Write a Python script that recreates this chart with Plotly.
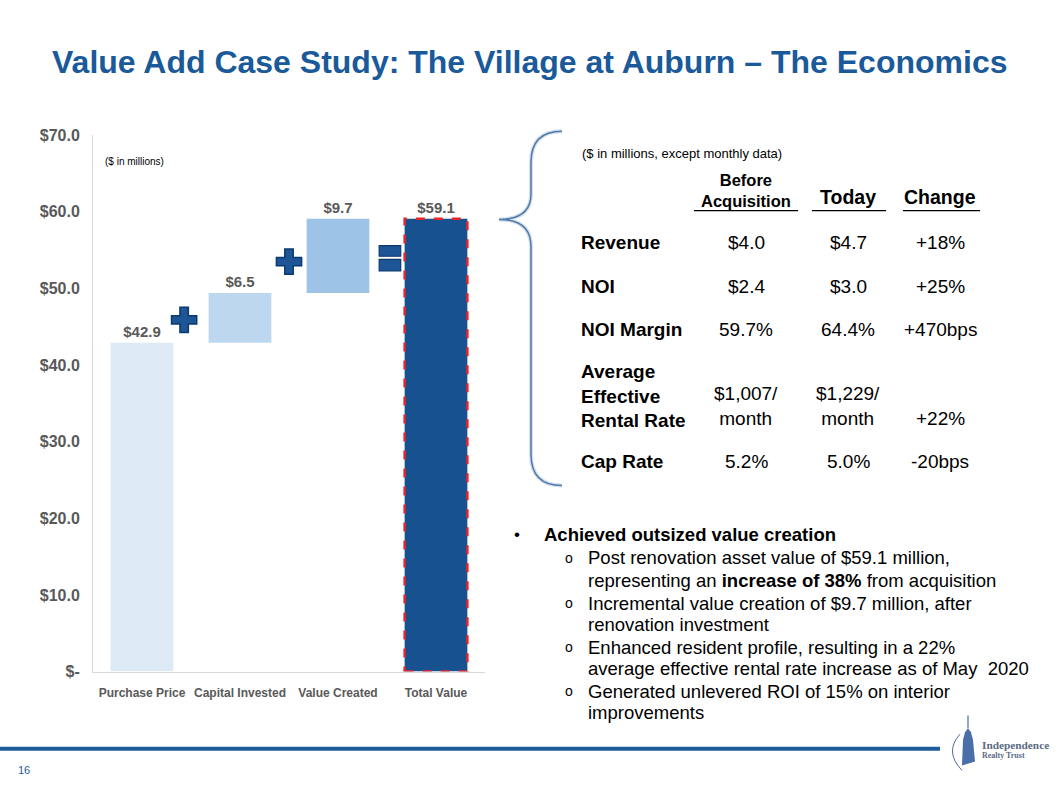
import plotly.graph_objects as go

W, H = 1058, 796

# ---------------- data ----------------
categories = ["Purchase Price", "Capital Invested", "Value Created", "Total Value"]
step_values = [42.9, 6.5, 9.7]          # waterfall steps
total_value = 59.1
value_labels = ["$42.9", "$6.5", "$9.7", "$59.1"]
y_ticks = [0, 10, 20, 30, 40, 50, 60, 70]
y_tick_labels = ["$-", "$10.0", "$20.0", "$30.0", "$40.0", "$50.0", "$60.0", "$70.0"]

table_rows = ["Revenue", "NOI", "NOI Margin", "Average<br>Effective<br>Rental Rate", "Cap Rate"]
table_before = ["$4.0", "$2.4", "59.7%", "$1,007/<br>month", "5.2%"]
table_today = ["$4.7", "$3.0", "64.4%", "$1,229/<br>month", "5.0%"]
table_change = ["+18%", "+25%", "+470bps", "+22%", "-20bps"]

bullet_head = "Achieved outsized value creation"
sub_bullets = [
    ["Post renovation asset value of $59.1 million,",
     "representing an <b>increase of 38%</b> from acquisition"],
    ["Incremental value creation of $9.7 million, after",
     "renovation investment"],
    ["Enhanced resident profile, resulting in a 22%",
     "average effective rental rate increase as of May  2020"],
    ["Generated unlevered ROI of 15% on interior",
     "improvements"],
]

# ---------------- helpers ----------------
FONT = "Arial, Liberation Sans, sans-serif"
def PX(x):
    return x / W
def PY(y):
    return 1 - y / H

# waterfall bases
bases = []
running = 0.0
for v in step_values:
    bases.append(running)
    running += v
bar_values = step_values + [total_value]
bar_bases = bases + [0]
bar_colors = ["#DDEAF6", "#BDD7EE", "#9DC3E6", "#17518F"]
BAR_W = 0.64

fig = go.Figure()
fig.add_trace(go.Bar(
    x=categories, y=bar_values, base=bar_bases, width=BAR_W,
    marker=dict(color=bar_colors, line=dict(width=0)),
    text=value_labels, textposition="outside",
    textfont=dict(family=FONT, size=15, color="#595959", weight="bold"),
    cliponaxis=False, showlegend=False, hoverinfo="skip",
))

# plus symbols between bars
plus_x = [0.43, 1.5]
plus_y = [bases[1] + 3.0, bases[2] + 4.1]
fig.add_trace(go.Scatter(
    x=plus_x, y=plus_y, mode="markers", xaxis="x2", yaxis="y",
    marker=dict(symbol="cross", size=21, color="#1D5596",
                line=dict(color="#0C3A6E", width=1.5)),
    showlegend=False, hoverinfo="skip", cliponaxis=False,
))

# dashed red outline around the total bar
fig.add_shape(type="rect", xref="x2", yref="y",
              x0=3 - BAR_W / 2, x1=3 + BAR_W / 2, y0=0, y1=total_value,
              line=dict(color="#E3262E", width=2.5, dash="dash"),
              fillcolor="rgba(0,0,0,0)", layer="above")

# equals sign
eq_x0, eq_x1 = 2.42, 2.64
fig.add_shape(type="rect", xref="x2", yref="y", x0=eq_x0, x1=eq_x1, y0=54.2, y1=55.6,
              fillcolor="#1D5596", line=dict(color="#0C3A6E", width=1.2))
fig.add_shape(type="rect", xref="x2", yref="y", x0=eq_x0, x1=eq_x1, y0=52.3, y1=53.8,
              fillcolor="#1D5596", line=dict(color="#0C3A6E", width=1.2))

ann = []
def text(x, y, s, size, color="#000000", bold=False, xanchor="left", align="left", family=FONT, yanchor="middle"):
    ann.append(dict(x=PX(x), y=PY(y), xref="paper", yref="paper", text=s, showarrow=False,
                    xanchor=xanchor, yanchor=yanchor, align=align,
                    font=dict(family=family, size=size, color=color, weight="bold" if bold else "normal")))

# title
text(529, 55, "Value Add Case Study: The Village at Auburn \u2013 The Economics", 32,
     color="#1B5A9A", bold=True, xanchor="center", align="center")

# chart note
text(103, 157, "($ in millions)", 10)

# brace
def brace_path():
    def p(x, y):
        return f"{PX(x):.5f},{PY(y):.5f}"
    return ("M " + p(562, 126) + " Q " + p(531, 126) + " " + p(531, 158) +
            " L " + p(531, 190) + " Q " + p(531, 216) + " " + p(499, 216) +
            " Q " + p(531, 216) + " " + p(531, 244) +
            " L " + p(531, 456) + " Q " + p(531, 488) + " " + p(562, 488))
fig.add_shape(type="path", xref="paper", yref="paper", path=brace_path(),
              line=dict(color="#D6E0EC", width=4))
fig.add_shape(type="path", xref="paper", yref="paper", path=brace_path(),
              line=dict(color="#4F7BAA", width=1.5))

# table
text(580, 149, "($ in millions, except monthly data)", 13)
col_x = [746, 848, 940]
text(col_x[0], 186, "<b>Before<br>Acquisition</b>", 16.5, xanchor="center", align="center")
text(col_x[1], 193, "<b>Today</b>", 19.5, xanchor="center", align="center")
text(col_x[2], 193, "<b>Change</b>", 19.5, xanchor="center", align="center")
for (a, b) in [(694, 798), (812, 886), (903, 980)]:
    fig.add_shape(type="line", xref="paper", yref="paper", x0=PX(a), x1=PX(b), y0=PY(207), y1=PY(207),
                  line=dict(color="#000000", width=1.2))
row_y = [240, 285, 329, 396, 463]
for i, r in enumerate(table_rows):
    text(579, row_y[i], "<b>" + r + "</b>", 19, align="left")
    yb = row_y[i] + (11 if i == 3 else 0)
    text(col_x[0], yb, table_before[i], 19, xanchor="center", align="center")
    text(col_x[1], yb, table_today[i], 19, xanchor="center", align="center")
    yc = 419 if i == 3 else row_y[i]
    text(col_x[2], yc, table_change[i], 19, xanchor="center", align="center")

# bullets
BF = 18.5
text(512, 538, "\u2022", 17)
text(542, 538, "<b>" + bullet_head + "</b>", BF)
line_y = [562, 585, 608, 630, 653, 675, 698, 720]
k = 0
for lines in sub_bullets:
    text(563, line_y[k], "o", 14)
    for ln in lines:
        text(586, line_y[k], ln, BF)
        k += 1

# footer
fig.add_shape(type="line", xref="paper", yref="paper", x0=0, x1=PX(940), y0=PY(757), y1=PY(757),
              line=dict(color="#1F5C99", width=4))
text(16, 779, "16", 11, color="#1F5C99")
# logo
fig.add_shape(type="path", xref="paper", yref="paper",
              path=f"M {PX(960):.5f},{PY(742):.5f} Q {PX(944):.5f},{PY(760):.5f} {PX(962):.5f},{PY(779):.5f}",
              line=dict(color="#4A6E9C", width=1))
fig.add_shape(type="path", xref="paper", yref="paper",
              path=(f"M {PX(962):.5f},{PY(774):.5f} L {PX(975):.5f},{PY(770):.5f} L {PX(973):.5f},{PY(748):.5f} "
                    f"L {PX(971):.5f},{PY(740):.5f} L {PX(968):.5f},{PY(736):.5f} L {PX(965):.5f},{PY(740):.5f} "
                    f"L {PX(963):.5f},{PY(748):.5f} Z"),
              fillcolor="#4A6EA8", line=dict(width=0))
fig.add_shape(type="line", xref="paper", yref="paper", x0=PX(968), x1=PX(968), y0=PY(736), y1=PY(723),
              line=dict(color="#4A6EA8", width=1.2))
text(980, 753, "<b>Independence</b>", 11.3, color="#5A6A85", family="Liberation Serif, DejaVu Serif, serif")
text(980, 764, "<b>Realty Trust</b>", 8, color="#5A6A85", family="Liberation Serif, DejaVu Serif, serif")

fig.update_layout(
    width=W, height=H, margin=dict(l=0, r=0, t=0, b=0),
    paper_bgcolor="white", plot_bgcolor="white",
    annotations=ann, bargap=0.36,
    xaxis=dict(domain=[PX(93), PX(485)], type="category", categoryorder="array", categoryarray=categories,
               range=[-0.5, 3.5], showline=True, linecolor="#D9D9D9", linewidth=1,
               showgrid=False, zeroline=False, ticks="", ticklabelstandoff=10,
               tickfont=dict(family=FONT, size=12, color="#595959", weight="bold"), fixedrange=True),
    xaxis2=dict(domain=[PX(93), PX(485)], range=[-0.5, 3.5], overlaying="x", visible=False,
                anchor="y", fixedrange=True),
    yaxis=dict(domain=[PY(678), PY(130)], range=[0, 70], tickvals=y_ticks, ticktext=y_tick_labels,
               showline=True, linecolor="#D9D9D9", linewidth=1, showgrid=False, zeroline=False,
               ticks="", ticklabelstandoff=9,
               tickfont=dict(family=FONT, size=16, color="#595959", weight="bold"), fixedrange=True),
)

fig.write_html("out.html")
